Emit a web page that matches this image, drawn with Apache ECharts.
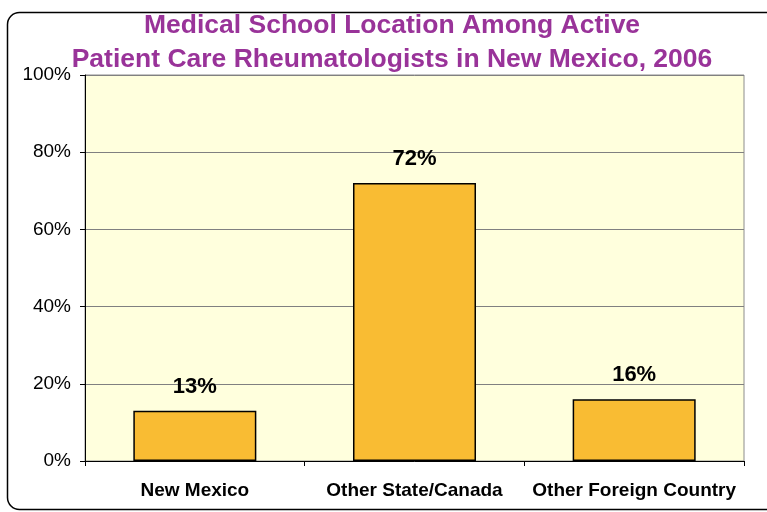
<!DOCTYPE html>
<html>
<head>
<meta charset="utf-8">
<script src="https://cdn.jsdelivr.net/npm/echarts@6/dist/echarts.min.js"></script>
<style>
  html, body { margin: 0; padding: 0; background: #ffffff; }
  #chart { width: 767px; height: 512px; }
</style>
</head>
<body>
<div id="chart"></div>
<script>
// Where active patient-care rheumatologists in New Mexico went to medical school (2006)
const categories = ['New Mexico', 'Other State/Canada', 'Other Foreign Country'];
const shares = [13, 72, 16];           // percent of rheumatologists
const yTicks = [0, 20, 40, 60, 80, 100];
const titleLines = ['Medical School Location Among Active', 'Patient Care Rheumatologists in New Mexico, 2006'];

const FONT = '"Liberation Sans", Arial, sans-serif';
const chart = echarts.init(document.getElementById('chart'), null, { renderer: 'canvas' });

chart.setOption({
  backgroundColor: '#ffffff',
  animation: false,
  graphic: [{
    type: 'rect',
    left: 5,
    top: 10,
    shape: { width: 800, height: 497, r: 12 },
    style: { fill: 'none', stroke: '#000000', lineWidth: 1.5 },
    z: -1
  }, {
    // two-line chart title, centred over the plot
    type: 'text',
    x: 392,
    y: 9,
    style: {
      text: titleLines.join('\n'),
      fill: '#993399',
      font: 'bold 26.5px ' + FONT,
      lineHeight: 34,
      align: 'center',
      verticalAlign: 'top'
    },
    z: 10
  }],
  grid: {
    left: 85,
    right: 23,
    top: 75,
    bottom: 51,
    show: true,
    backgroundColor: '#FFFFDD',
    borderColor: '#8c8c8c',
    borderWidth: 1
  },
  xAxis: {
    type: 'category',
    data: categories,
    axisLine: { lineStyle: { color: '#000000', width: 1 } },
    axisTick: { show: true, alignWithLabel: false, length: 5, lineStyle: { color: '#000000' } },
    axisLabel: {
      interval: 0,
      hideOverlap: false,
      color: '#000000',
      fontFamily: FONT,
      fontSize: 19,
      fontWeight: 'bold',
      margin: 20
    }
  },
  yAxis: {
    type: 'value',
    min: yTicks[0],
    max: yTicks[yTicks.length - 1],
    interval: 20,
    axisLine: { show: true, lineStyle: { color: '#000000', width: 1 } },
    axisTick: { show: true, length: 5, lineStyle: { color: '#000000' } },
    splitLine: { lineStyle: { color: '#808080', width: 1 } },
    axisLabel: {
      color: '#000000',
      fontFamily: FONT,
      fontSize: 19,
      margin: 14,
      formatter: v => v + '%'
    }
  },
  series: [{
    type: 'bar',
    data: shares,
    barWidth: '56%',
    itemStyle: {
      color: '#F9BC33',
      borderColor: '#000000',
      borderWidth: 1.5
    },
    label: {
      show: true,
      position: 'top',
      distance: 13,
      color: '#000000',
      fontFamily: FONT,
      fontSize: 22,
      fontWeight: 'bold',
      formatter: p => p.value + '%'
    }
  }]
});
</script>
</body>
</html>
